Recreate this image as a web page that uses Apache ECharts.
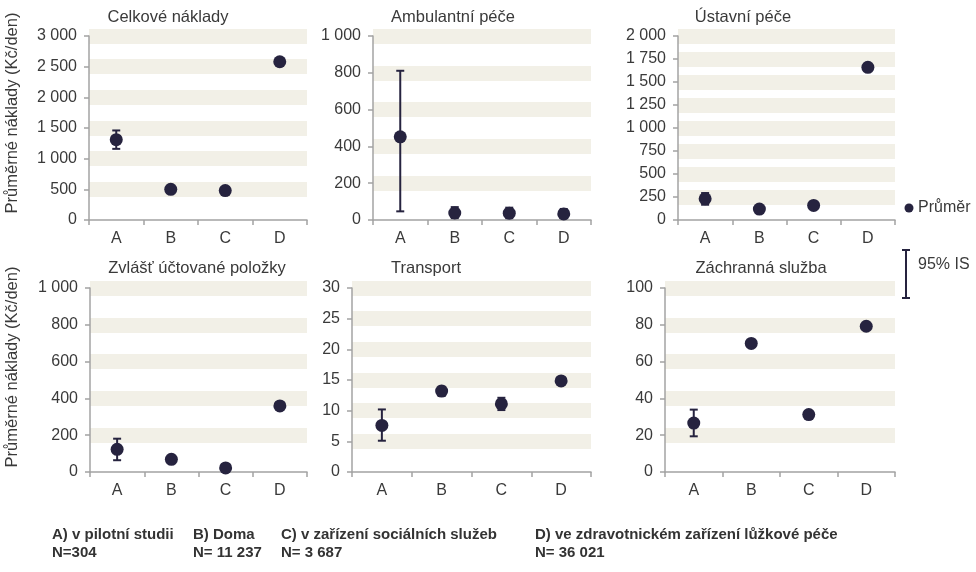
<!DOCTYPE html>
<html>
<head>
<meta charset="utf-8">
<script src="https://cdn.jsdelivr.net/npm/echarts@6/dist/echarts.min.js"></script>
<style>html,body{margin:0;padding:0;background:#fff}#chart{width:976px;height:572px}</style>
</head>
<body>
<div id="chart"></div>
<script>
// ---- data ----
const categories = ['A', 'B', 'C', 'D'];
const panelTitles = ['Celkové náklady', 'Ambulantní péče', 'Ústavní péče', 'Zvlášť účtované položky', 'Transport', 'Záchranná služba'];

const celkoveMean = [1310, 500, 480, 2580];
const celkoveLow  = [1160, null, null, null];
const celkoveHigh = [1460, null, null, null];

const ambulantniMean = [452, 38, 37, 33];
const ambulantniLow  = [47, 10, 10, 10];
const ambulantniHigh = [811, 70, 67, 60];

const ustavniMean = [231, 119, 158, 1660];
const ustavniLow  = [166, null, null, null];
const ustavniHigh = [293, null, null, null];

const zvlastMean = [123, 69, 22, 359];
const zvlastLow  = [64, null, null, null];
const zvlastHigh = [181, null, null, null];

const transportMean = [7.6, 13.2, 11.1, 14.85];
const transportLow  = [5.1, 12.4, 10.1, null];
const transportHigh = [10.2, 13.9, 12.1, null];

const zachrannaMean = [26.6, 69.9, 31.2, 79.2];
const zachrannaLow  = [19.4, null, 29.5, null];
const zachrannaHigh = [33.9, null, 33.0, null];

const axisMax = [3000, 1000, 2000, 1000, 30, 100];
const axisInterval = [500, 200, 250, 200, 5, 20];

const yAxisName = 'Průměrné náklady (Kč/den)';
const legendMean = 'Průměr';
const legendCI = '95% IS';
const footerLine1 = ['A) v pilotní studii', 'B) Doma', 'C) v zařízení sociálních služeb', 'D) ve zdravotnickém zařízení lůžkové péče'];
const footerLine2 = ['N=304', 'N= 11 237', 'N= 3 687', 'N= 36 021'];

// ---- layout / style ----
const means = [celkoveMean, ambulantniMean, ustavniMean, zvlastMean, transportMean, zachrannaMean];
const lows = [celkoveLow, ambulantniLow, ustavniLow, zvlastLow, transportLow, zachrannaLow];
const highs = [celkoveHigh, ambulantniHigh, ustavniHigh, zvlastHigh, transportHigh, zachrannaHigh];

const grids = [
  {left: 89, top: 36, width: 218, height: 184},
  {left: 373, top: 36, width: 218, height: 184},
  {left: 678, top: 36, width: 217, height: 184},
  {left: 90, top: 288, width: 217, height: 184},
  {left: 352, top: 288, width: 239, height: 184},
  {left: 665, top: 288, width: 230, height: 184}
];
const titlePos = [[168, 17], [453, 17], [743, 17], [197, 268], [426, 268], [761, 268]];

const NAVY = '#26233f';
const TXT = '#3a3a3a';
const AXIS = '#a3a3a3';
const BAND = '#f2f0e7';
const FONT = '"Liberation Sans", Arial, sans-serif';

function fmt(v) { return String(v).replace(/\B(?=(\d{3})+(?!\d))/g, ' '); }

const xAxes = [], yAxes = [], series = [];
grids.forEach((g, i) => {
  xAxes.push({
    type: 'category', gridIndex: i, data: categories, boundaryGap: true,
    axisLine: {lineStyle: {color: AXIS, width: 1.5}},
    axisTick: {show: true, length: 5, lineStyle: {color: AXIS, width: 1.5}},
    axisLabel: {color: TXT, fontSize: 16, fontFamily: FONT, margin: 11},
    splitLine: {show: false}
  });
  yAxes.push({
    type: 'value', gridIndex: i, min: 0, max: axisMax[i], interval: axisInterval[i],
    axisLine: {show: true, lineStyle: {color: AXIS, width: 1.5}},
    axisTick: {show: true, length: 5, lineStyle: {color: AXIS, width: 1.5}},
    axisLabel: {color: TXT, fontSize: 16, fontFamily: FONT, margin: 12, formatter: fmt},
    splitLine: {show: true, showMinLine: false, lineStyle: {color: BAND, width: 15}}
  });
  const ci = [];
  means[i].forEach((m, k) => {
    if (lows[i][k] != null && highs[i][k] != null) ci.push([k, lows[i][k], highs[i][k]]);
  });
  series.push({
    type: 'custom', xAxisIndex: i, yAxisIndex: i, z: 3, data: ci,
    renderItem: function (params, api) {
      const lo = api.coord([api.value(0), api.value(1)]);
      const hi = api.coord([api.value(0), api.value(2)]);
      const st = {stroke: NAVY, lineWidth: 2};
      const hw = 4;
      return {type: 'group', children: [
        {type: 'line', shape: {x1: lo[0], y1: lo[1], x2: hi[0], y2: hi[1]}, style: st},
        {type: 'line', shape: {x1: lo[0] - hw, y1: lo[1], x2: lo[0] + hw, y2: lo[1]}, style: st},
        {type: 'line', shape: {x1: hi[0] - hw, y1: hi[1], x2: hi[0] + hw, y2: hi[1]}, style: st}
      ]};
    }
  });
  series.push({
    type: 'scatter', xAxisIndex: i, yAxisIndex: i, z: 4, data: means[i],
    symbol: 'circle', symbolSize: 13, itemStyle: {color: NAVY, opacity: 1}
  });
});

const graphic = [];
panelTitles.forEach((t, i) => {
  graphic.push({type: 'text', x: titlePos[i][0], y: titlePos[i][1],
    style: {text: t, fill: TXT, font: '16.5px ' + FONT, textAlign: 'center', textVerticalAlign: 'middle'}});
});
[[12.5, 113], [12.5, 367]].forEach(p => {
  graphic.push({type: 'text', x: p[0], y: p[1], rotation: Math.PI / 2,
    style: {text: yAxisName, fill: TXT, font: '16.5px ' + FONT, textAlign: 'center', textVerticalAlign: 'middle'}});
});
// legend
graphic.push({type: 'circle', shape: {cx: 909, cy: 208, r: 4.5}, style: {fill: NAVY}});
graphic.push({type: 'text', x: 918, y: 208, style: {text: legendMean, fill: TXT, font: '16px ' + FONT, textVerticalAlign: 'middle'}});
graphic.push({type: 'line', shape: {x1: 906, y1: 250, x2: 906, y2: 298}, style: {stroke: NAVY, lineWidth: 2}});
graphic.push({type: 'line', shape: {x1: 902, y1: 250, x2: 910, y2: 250}, style: {stroke: NAVY, lineWidth: 2}});
graphic.push({type: 'line', shape: {x1: 902, y1: 298, x2: 910, y2: 298}, style: {stroke: NAVY, lineWidth: 2}});
graphic.push({type: 'text', x: 918, y: 265, style: {text: legendCI, fill: TXT, font: '16px ' + FONT, textVerticalAlign: 'middle'}});
// footer
const footX = [52, 193, 281, 535];
footerLine1.forEach((t, i) => {
  graphic.push({type: 'text', x: footX[i], y: 535, style: {text: t, fill: '#333', font: 'bold 15px ' + FONT, textVerticalAlign: 'middle'}});
  graphic.push({type: 'text', x: footX[i], y: 553, style: {text: footerLine2[i], fill: '#333', font: 'bold 15px ' + FONT, textVerticalAlign: 'middle'}});
});

const chart = echarts.init(document.getElementById('chart'), null, {renderer: 'canvas'});
chart.setOption({
  animation: false,
  backgroundColor: '#fff',
  grid: grids,
  xAxis: xAxes,
  yAxis: yAxes,
  series: series,
  graphic: graphic
});
</script>
</body>
</html>
